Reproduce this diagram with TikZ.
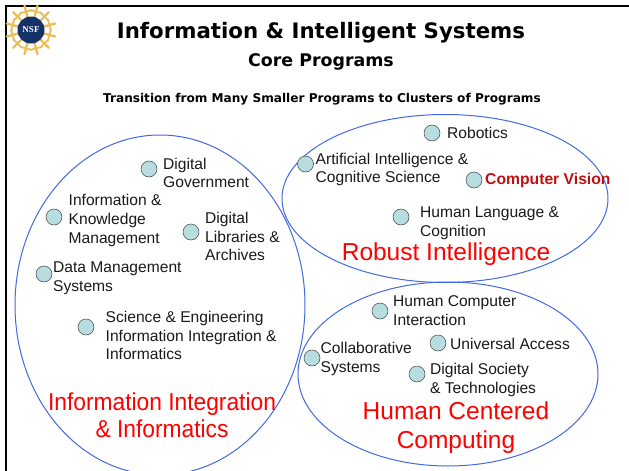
\documentclass[tikz,border=0pt]{standalone}
\usepackage{fontspec}
\setmainfont{Liberation Sans}
\newfontfamily\titlefont{DejaVu Sans}
\newfontfamily\logofont{Liberation Serif}
\usepackage{tikz}

\definecolor{ringblue}{RGB}{65,105,225}
\definecolor{dotfill}{RGB}{183,221,224}
\definecolor{sungold}{RGB}{236,190,90}
\definecolor{ballblue}{RGB}{20,50,105}
\definecolor{visionred}{RGB}{192,16,16}

\begin{document}
\begin{tikzpicture}[x=1pt, y=-1pt]
    % --- DEFINE STYLES ---
    % Style for the topic dots
    \tikzstyle{topicdot} = [circle, draw=black!75, fill=dotfill, line width=0.5pt, inner sep=0pt, minimum size=16pt]
    % Style for the topic names
    \tikzstyle{topiclabel} = [anchor=west, align=left, inner sep=0pt, font=\fontsize{15.6}{18.8}\selectfont, text=black!90]
    % Style for the big cluster names
    \tikzstyle{clusterlabel} = [align=center, inner sep=0pt, text=red, font=\fontsize{24.5}{28.5}\selectfont]
    % Style for the cluster rings
    \tikzstyle{ring} = [draw=ringblue, line width=1pt]

    \useasboundingbox (0,0) rectangle (629,471);

    % Slide frame
    \fill[black] (4.5,4.5) rectangle (629,6.5);
    \fill[black] (4.5,4.5) rectangle (6.5,471);

    % Logo
    \foreach \a in {15,45,...,345} {
        \draw[sungold, line width=2.4pt, line cap=round] (31,30) -- +(\a:25);
        \draw[sungold, line width=1.8pt, line cap=round] (31,30) ++(\a:19) -- +(\a+90:6) (31,30) ++(\a:19) -- +(\a-90:6);
    }
    \node[circle, fill=ballblue, inner sep=0pt, minimum size=27pt] (nsfball) at (31,30) {};
    \node[text=white, font=\logofont\fontsize{9}{10}\bfseries\selectfont, inner sep=0pt] (nsftext) at (31,30) {NSF};

    % Headings
    \node[inner sep=0pt, font=\titlefont\fontsize{21.3}{23}\bfseries\selectfont] (title) at (321,33) {Information \& Intelligent Systems};
    \node[inner sep=0pt, font=\titlefont\fontsize{17.4}{19}\bfseries\selectfont] (subtitle) at (321,62) {Core Programs};
    \node[inner sep=0pt, font=\titlefont\fontsize{12.1}{14}\bfseries\selectfont] (transition) at (322,99) {Transition from Many Smaller Programs to Clusters of Programs};

    % Cluster rings
    \draw[ring] (160,305) ellipse (145 and 170);
    \draw[ring] (445,198.5) ellipse (163 and 84);
    \draw[ring] (448,374) ellipse (150 and 92);

    % Topics: name/dot x/dot y/label x/label y/text
    \foreach \nm/\dx/\dy/\lx/\ly/\txt in {
        gov/149/169/163/173/{Digital\\Government},
        know/54/217/68.5/220.5/{Information \&\\Knowledge\\Management},
        lib/191/232/205/236.5/{Digital\\Libraries \&\\Archives},
        data/44/274/53/278.5/{Data Management\\Systems},
        sci/86/327/105.5/335.5/{Science \& Engineering\\Information Integration \&\\Informatics},
        robo/432/133/447/133/{Robotics},
        ai/305.5/164/315.5/169.5/{Artificial Intelligence \&\\Cognitive Science},
        lang/401/217/420/223/{Human Language \&\\Cognition},
        hci/380/311/393/310.5/{Human Computer\\Interaction},
        acc/438/343/450/344/{Universal Access},
        collab/312/358/320.5/359/{Collaborative\\Systems},
        soc/417/374/430/380/{Digital Society\\\& Technologies}} {
        \node[topicdot] (\nm dot) at (\dx,\dy) {};
        \node[topiclabel] (\nm) at (\lx,\ly) {\txt};
    }

    % Highlighted topic
    \node[topicdot] (visiondot) at (474,180) {};
    \node[anchor=west, inner sep=0pt, text=visionred, font=\fontsize{15.7}{18}\bfseries\selectfont] (vision) at (485,180) {Computer Vision};

    % Cluster names
    \node[clusterlabel] (robust) at (446,254) {Robust Intelligence};
    \node[clusterlabel, xscale=0.93, font=\fontsize{24.5}{27}\selectfont] (integ) at (162,415) {Information Integration\\\& Informatics};
    \node[clusterlabel] (human) at (456,427.5) {Human Centered\\Computing};
\end{tikzpicture}
\end{document}
